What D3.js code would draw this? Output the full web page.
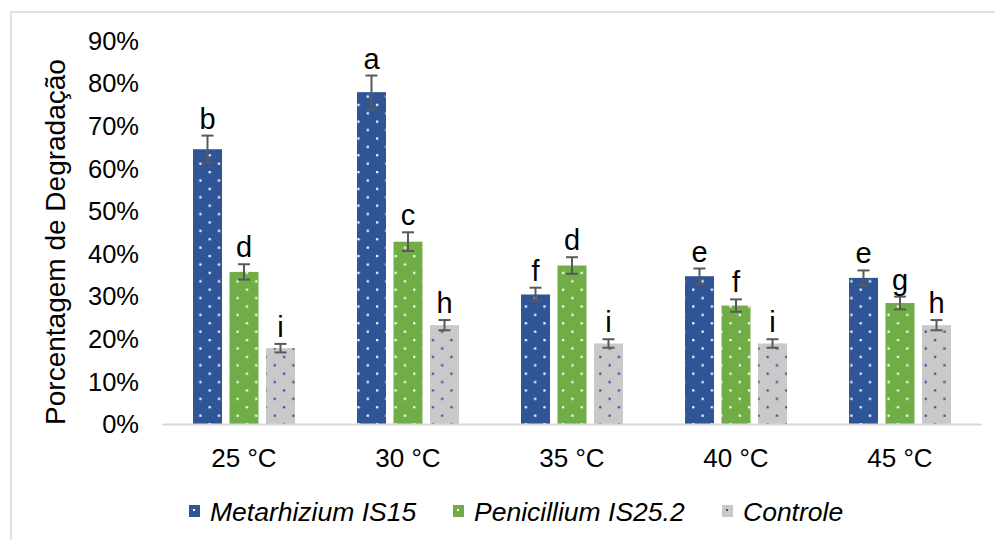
<!DOCTYPE html>
<html>
<head>
<meta charset="utf-8">
<script src="https://cdn.jsdelivr.net/npm/d3@7"></script>
<style>
  body { margin: 0; background: #fff; }
  svg text { font-family: "Liberation Sans", Arial, sans-serif; fill: #000; }
</style>
</head>
<body>
<svg id="chart" width="995" height="540"></svg>
<script>
// categories and series (percent)
const categories = ["25 °C", "30 °C", "35 °C", "40 °C", "45 °C"];
const seriesNames = ["Metarhizium IS15", "Penicillium IS25.2", "Controle"];
const metarhizium = [64.5, 77.9, 30.4, 34.7, 34.3];
const penicillium = [35.7, 42.8, 37.2, 27.8, 28.4];
const controle = [17.8, 23.2, 18.9, 18.9, 23.2];
const errMetarhizium = [3.2, 3.9, 1.6, 1.8, 1.75];
const errPenicillium = [1.8, 2.2, 1.95, 1.45, 1.5];
const errControle = [1.0, 1.2, 1.0, 1.0, 1.2];
const letMetarhizium = ["b", "a", "f", "e", "e"];
const letPenicillium = ["d", "c", "d", "f", "g"];
const letControle = ["i", "h", "i", "i", "h"];
const yTicks = [0, 10, 20, 30, 40, 50, 60, 70, 80, 90];

const values = [metarhizium, penicillium, controle];
const errors = [errMetarhizium, errPenicillium, errControle];
const letters = [letMetarhizium, letPenicillium, letControle];
const fills = ["#2F5597", "#70AD47", "#C9C9C9"];
const dots = ["#ffffff", "#ffffff", "#7030A0"];

const svg = d3.select("#chart");

// outer frame of the chart area
svg.append("rect")
    .attr("x", 11).attr("y", 12)
    .attr("width", 1000).attr("height", 600)
    .attr("fill", "none")
    .attr("stroke", "#d9d9d9")
    .attr("stroke-width", 1.5);

// dotted fill patterns
const defs = svg.append("defs");
fills.forEach((f, i) => {
    const p = defs.append("pattern")
        .attr("id", "pat" + i)
        .attr("patternUnits", "userSpaceOnUse")
        .attr("width", 18.6).attr("height", 16.8);
    p.append("rect").attr("width", 18.6).attr("height", 16.8).attr("fill", f);
    p.append("rect").attr("x", 4).attr("y", 3).attr("width", 2.2).attr("height", 2.2).attr("fill", dots[i]);
    p.append("rect").attr("x", 13.3).attr("y", 11.4).attr("width", 2.2).attr("height", 2.2).attr("fill", dots[i]);
});

const x0 = d3.scaleBand().domain(categories).range([162, 982]);
const x1 = d3.scaleBand().domain(d3.range(3)).range([-51, 51]).paddingInner(7.5 / 36.5);
const y = d3.scaleLinear().domain([0, 90]).range([424, 40.6]);

// y tick labels
svg.append("g")
    .selectAll("text")
    .data(yTicks)
    .join("text")
    .attr("x", 139)
    .attr("y", d => y(d))
    .attr("dy", "0.36em")
    .attr("text-anchor", "end")
    .style("font-size", "25.5px")
    .text(d => d + "%");

// y axis title
svg.append("text")
    .attr("transform", "translate(65,242) rotate(-90)")
    .attr("text-anchor", "middle")
    .style("font-size", "28px")
    .text("Porcentagem de Degradação");

// bars
const barData = [];
categories.forEach((c, ci) => {
    values.forEach((s, si) => {
        barData.push({c, si, v: s[ci], e: errors[si][ci], l: letters[si][ci]});
    });
});

const g = svg.append("g");
g.selectAll("rect.bar")
    .data(barData)
    .join("rect")
    .attr("class", "bar")
    .attr("x", d => x0(d.c) + x0.bandwidth() / 2 + x1(d.si))
    .attr("y", d => y(d.v))
    .attr("width", x1.bandwidth())
    .attr("height", d => y(0) - y(d.v))
    .attr("fill", d => `url(#pat${d.si})`);

// baseline
svg.append("line")
    .attr("x1", 162).attr("x2", 982)
    .attr("y1", y(0) + 0.5).attr("y2", y(0) + 0.5)
    .attr("stroke", "#d9d9d9")
    .attr("stroke-width", 2);

// error bars
const cx = d => x0(d.c) + x0.bandwidth() / 2 + x1(d.si) + x1.bandwidth() / 2;
const eb = g.selectAll("g.err").data(barData).join("g").attr("class", "err")
    .attr("stroke", "#595959").attr("stroke-width", 2);
eb.append("line").attr("x1", cx).attr("x2", cx)
    .attr("y1", d => y(d.v + d.e)).attr("y2", d => y(d.v - d.e));
eb.append("line").attr("x1", d => cx(d) - 6).attr("x2", d => cx(d) + 6)
    .attr("y1", d => y(d.v + d.e)).attr("y2", d => y(d.v + d.e));
eb.append("line").attr("x1", d => cx(d) - 6).attr("x2", d => cx(d) + 6)
    .attr("y1", d => y(d.v - d.e)).attr("y2", d => y(d.v - d.e));

// significance letters
g.selectAll("text.let")
    .data(barData)
    .join("text")
    .attr("class", "let")
    .attr("x", cx)
    .attr("y", d => y(d.v + d.e) - 7)
    .attr("text-anchor", "middle")
    .style("font-size", "29px")
    .text(d => d.l);

// category labels
svg.append("g")
    .selectAll("text")
    .data(categories)
    .join("text")
    .attr("x", d => x0(d) + x0.bandwidth() / 2)
    .attr("y", 458)
    .attr("dy", "0.36em")
    .attr("text-anchor", "middle")
    .style("font-size", "26px")
    .text(d => d);

// legend
const legX = [189, 453, 722];
const leg = svg.append("g")
    .selectAll("g")
    .data(seriesNames)
    .join("g")
    .attr("transform", (d, i) => `translate(${legX[i]},511)`);
leg.append("rect")
    .attr("x", 0).attr("y", -6)
    .attr("width", 11).attr("height", 12)
    .attr("fill", (d, i) => fills[i]);
leg.append("rect")
    .attr("x", 4).attr("y", -2).attr("width", 2).attr("height", 2)
    .attr("fill", (d, i) => dots[i]);
leg.append("text")
    .attr("x", 21)
    .attr("dy", "0.36em")
    .style("font-size", "26.5px")
    .style("font-style", "italic")
    .text(d => d);
</script>
</body>
</html>
